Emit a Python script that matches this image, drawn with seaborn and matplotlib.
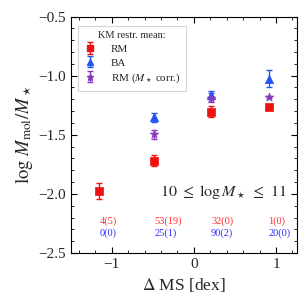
import numpy as np
import pandas as pd
import matplotlib
matplotlib.use("Agg")
import matplotlib.pyplot as plt
from matplotlib.lines import Line2D
from matplotlib.ticker import MultipleLocator
from matplotlib.legend_handler import HandlerTuple
import seaborn as sns

# ---- data ----
dms_rm = [-1.15, -0.48, 0.21, 0.91]
rm_val = [-1.975, -1.72, -1.305, -1.262]
rm_err = [0.07, 0.045, 0.045, 0.015]

dms_ba = [-0.48, 0.21, 0.91]
ba_val = [-1.352, -1.163, -1.025]
ba_err = [0.04, 0.035, 0.07]

dms_cr = [-0.48, 0.21, 0.91]
cr_val = [-1.497, -1.185, -1.18]
cr_err = [0.04, 0.04, 0.012]

count_x = [-1.15, -0.48, 0.21, 0.91]
rm_counts = ["4(5)", "53(19)", "32(0)", "1(0)"]
ba_counts = ["0(0)", "25(1)", "90(2)", "20(0)"]

sns.set_style("ticks")
plt.rcParams['font.family'] = ['Liberation Serif', 'DejaVu Serif']
plt.rcParams['mathtext.fontset'] = 'stix'

RED = '#ee1111'
BLUE = '#1f55f0'
PURPLE = '#8a3ab9'

fig = plt.figure(figsize=(3.07, 3.07), dpi=100)
ax = fig.add_axes([0.23, 0.176, 0.736, 0.770])

series = [
    (dms_rm, rm_val, rm_err, RED, 's', 5.5, 4.5, 'RM'),
    (dms_ba, ba_val, ba_err, BLUE, '^', 6, 4.5, 'BA'),
    (dms_cr, cr_val, cr_err, PURPLE, '*', 6.5, 5, r'RM ($M_\star$ corr.)'),
]
handles = []
labels = []
for xs, ys, es, col, mk, ms, lms, lab in series:
    eb = ax.errorbar(xs, ys, yerr=es, fmt='none', ecolor=col, elinewidth=1.0,
                     capsize=2.5, capthick=1.0, zorder=2)
    df = pd.DataFrame({'x': xs, 'y': ys})
    sns.scatterplot(data=df, x='x', y='y', marker=mk, color=col, s=ms**2,
                    edgecolor=col, linewidth=0.5, ax=ax, zorder=3, legend=False)
    mh = Line2D([], [], marker=mk, color=col, markersize=lms, linestyle='none')
    handles.append((eb, mh))
    labels.append(lab)

for x, t in zip(count_x, rm_counts):
    ax.text(x, -2.235, t, color='#ff3030', fontsize=7.5, ha='left', va='center')
for x, t in zip(count_x, ba_counts):
    ax.text(x, -2.335, t, color='#3030ff', fontsize=7.5, ha='left', va='center')

ax.text(0.955, 0.26, r'$10\ \leq\ \log M_\star\ \leq\ 11$', transform=ax.transAxes,
        ha='right', va='center', fontsize=11.5)

ax.set_xlim(-1.5, 1.25)
ax.set_ylim(-2.5, -0.5)
ax.xaxis.set_major_locator(MultipleLocator(1))
ax.xaxis.set_minor_locator(MultipleLocator(0.2))
ax.yaxis.set_major_locator(MultipleLocator(0.5))
ax.yaxis.set_minor_locator(MultipleLocator(0.1))
ax.tick_params(which='both', direction='in', top=True, right=True, labelsize=11,
               color='black')
ax.tick_params(which='major', length=4, width=0.8)
ax.tick_params(which='minor', length=2, width=0.6)
for sp in ax.spines.values():
    sp.set_color('black')
    sp.set_linewidth(0.8)

ax.set_xlabel(r'$\Delta$ MS [dex]', fontsize=12.5)
ax.set_ylabel(r'$\log\, M_{\rm mol}/M_\star$', fontsize=13.5, labelpad=2)

leg = ax.legend(handles, labels, title='KM restr. mean:', loc='upper left',
                fontsize=8, title_fontsize=7.5, frameon=True, fancybox=False,
                handler_map={tuple: HandlerTuple(ndivide=1)},
                handlelength=1.0, handletextpad=1.4, borderpad=0.5,
                labelspacing=0.35, bbox_to_anchor=(0.01, 0.985))
leg.get_frame().set_edgecolor('#cccccc')
leg.get_frame().set_linewidth(0.8)

fig.savefig('out.png', dpi=100)
